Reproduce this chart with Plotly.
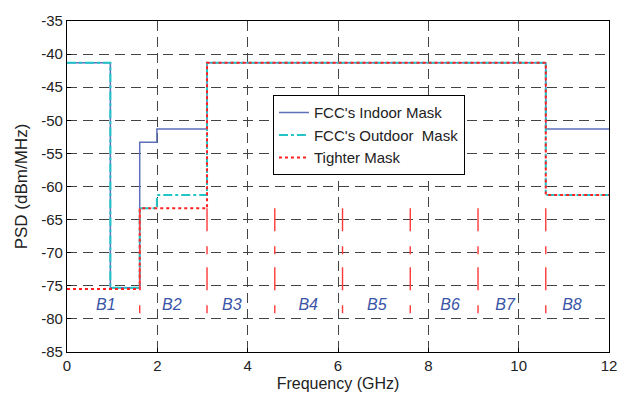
import plotly.graph_objects as go

# Step-function masks (frequency breakpoints in GHz, PSD in dBm/MHz)
indoor_f = [0, 0.96, 1.61, 1.99, 3.1, 10.6, 12]
indoor_p = [-41.3, -75.3, -53.3, -51.3, -41.3, -51.3, -51.3]

outdoor_f = [0, 0.96, 1.61, 1.99, 3.1, 10.6, 12]
outdoor_p = [-41.3, -75.3, -63.3, -61.3, -41.3, -61.3, -61.3]

tight_f = [0, 1.61, 3.1, 10.6, 12]
tight_p = [-75.5, -63.3, -41.3, -61.3, -61.3]

# band boundary markers
band_edges = [1.61, 3.1, 4.6, 6.1, 7.6, 9.1, 10.6]
marker_top = -63.3
marker_bottom = -79.5

band_labels = ["B1", "B2", "B3", "B4", "B5", "B6", "B7", "B8"]
band_label_x = [0.86, 2.32, 3.65, 5.34, 6.86, 8.48, 9.7, 11.18]
band_label_y = -78

x_ticks = [0, 2, 4, 6, 8, 10, 12]
y_ticks = [-85, -80, -75, -70, -65, -60, -55, -50, -45, -40, -35]
y_tick_text = ["-85", "-80", "-75", "-70", "-65", "-60", "-55", "-50", "-45", "-40", "-35"]

fig = go.Figure()

fig.add_trace(go.Scatter(x=indoor_f, y=indoor_p, mode="lines", line_shape="hv",
                         name="FCC's Indoor Mask",
                         line=dict(color="#5b70b8", width=1.5)))
fig.add_trace(go.Scatter(x=outdoor_f, y=outdoor_p, mode="lines", line_shape="hv",
                         name="FCC's Outdoor  Mask",
                         line=dict(color="#22c4c8", width=2, dash="dashdot")))
fig.add_trace(go.Scatter(x=tight_f, y=tight_p, mode="lines", line_shape="hv",
                         name="Tighter Mask",
                         line=dict(color="#ff2020", width=2, dash="dot")))

mx, my = [], []
for e in band_edges:
    mx += [e, e, None]
    my += [marker_top, marker_bottom, None]
fig.add_trace(go.Scatter(x=mx, y=my, mode="lines", showlegend=False, hoverinfo="skip",
                         line=dict(color="#ff3a3a", width=1.4, dash="23px,15px,8px,13px")))

fig.add_trace(go.Scatter(x=band_label_x, y=[band_label_y] * len(band_labels), mode="text",
                         text=band_labels, showlegend=False,
                         textfont=dict(family="Arial", size=16, color="#3a55a8", style="italic")))

axis_common = dict(showline=True, linecolor="black", linewidth=1.3, mirror=True,
                   showgrid=True, gridcolor="#444444", griddash="10px,6px", gridwidth=1,
                   ticks="inside", ticklen=4, tickcolor="black", zeroline=False,
                   tickfont=dict(family="Arial", size=15, color="#222222"))

fig.update_xaxes(range=[0, 12], tickvals=x_ticks, ticktext=[str(v) for v in x_ticks],
                 title=dict(text="Frequency (GHz)", font=dict(family="Arial", size=16, color="#222222"),
                            standoff=4), **axis_common)
fig.update_yaxes(range=[-85, -35], tickvals=y_ticks, ticktext=y_tick_text,
                 title=dict(text="PSD (dBm/MHz)", font=dict(family="Arial", size=17, color="#222222"),
                            standoff=9), **axis_common)

fig.update_layout(
    width=629, height=401,
    margin=dict(l=67, r=20, t=16, b=45),
    plot_bgcolor="white", paper_bgcolor="white",
    legend=dict(x=0.38, y=0.776, xanchor="left", yanchor="top",
                bordercolor="black", borderwidth=1, bgcolor="white",
                font=dict(family="Arial", size=15, color="#222222"),
                tracegroupgap=0, itemwidth=30),
)

fig.write_html("out.html")
